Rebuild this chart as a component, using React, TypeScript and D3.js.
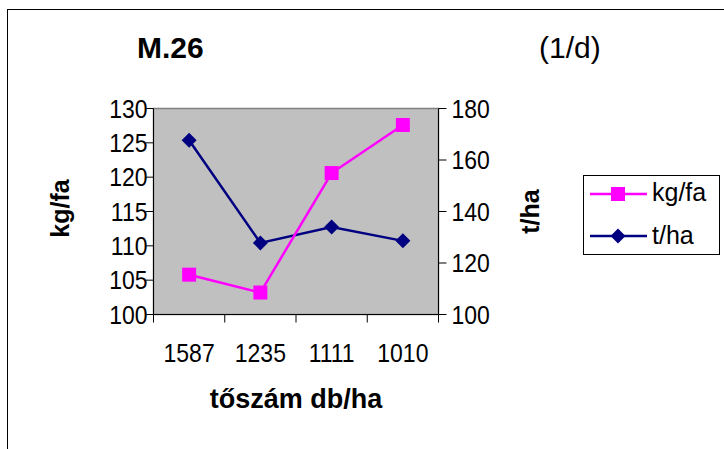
import React from "react";
import * as d3 from "d3";

const categories = ["1587", "1235", "1111", "1010"];
const kgfa = [105.8, 103.2, 120.6, 127.6];
const tha = [167.7, 127.8, 134.0, 128.6];
const leftTicks = [100, 105, 110, 115, 120, 125, 130];
const rightTicks = [100, 120, 140, 160, 180];

const FONT = "'Liberation Sans', Arial, sans-serif";

function T(props: {
  x: number; y: number; size: number; anchor?: string; bold?: boolean; rotate?: number; sy?: number; children: React.ReactNode;
}) {
  const { x, y, size, anchor = "start", bold = false, rotate = 0, sy = 1 } = props;
  return (
    <text
      transform={`translate(${x},${y}) rotate(${rotate}) scale(1,${sy})`}
      textAnchor={anchor}
      fontFamily={FONT}
      fontWeight={bold ? "bold" : "normal"}
      fontSize={size}
      fill="#000"
    >
      {props.children}
    </text>
  );
}

export default function App() {
  const W = 724, H = 449;
  const pl = 153.5, pr = 438.5, pt = 108.5, pb = 314.5;
  const x = d3.scaleBand().domain(categories).range([pl, pr]);
  const yL = d3.scaleLinear().domain([100, 130]).range([pb, pt]);
  const yR = d3.scaleLinear().domain([100, 180]).range([pb, pt]);
  const cx = (c: string) => (x(c) as number) + x.bandwidth() / 2;
  const lineL = d3.line<number>().x((_, i) => cx(categories[i])).y((d) => yL(d));
  const lineR = d3.line<number>().x((_, i) => cx(categories[i])).y((d) => yR(d));
  const boundaries = [...categories.map((c) => x(c) as number), pr];
  const diamond = (px: number, py: number, r: number) =>
    `M${px},${py - r}L${px + r},${py}L${px},${py + r}L${px - r},${py}Z`;
  const tickFont = 23;
  const tsy = 1.1;
  return (
    <svg width={W} height={H} style={{ position: "absolute", left: 0, top: 0, display: "block" }}>
      <rect x={0} y={0} width={W} height={H} fill="#fff" />
      <rect x={7.5} y={9.5} width={W + 10} height={H + 10} fill="none" stroke="#000" strokeWidth={1} />
      <T x={137} y={58} size={30} bold>M.26</T>
      <T x={539} y={58} size={30}>(1/d)</T>

      <rect x={pl} y={pt} width={pr - pl} height={pb - pt} fill="#c0c0c0" stroke="#808080" strokeWidth={1.5} />
      {/* left axis */}
      <line x1={pl} x2={pl} y1={pt} y2={pb} stroke="#000" strokeWidth={1} />
      {leftTicks.map((t) => (
        <g key={"l" + t}>
          <line x1={pl - 8} x2={pl} y1={yL(t)} y2={yL(t)} stroke="#000" />
          <T x={pl - 6} y={yL(t) + 9} anchor="end" size={tickFont} sy={tsy}>{t}</T>
        </g>
      ))}
      {/* right axis */}
      <line x1={pr} x2={pr} y1={pt} y2={pb} stroke="#000" strokeWidth={1} />
      {rightTicks.map((t) => (
        <g key={"r" + t}>
          <line x1={pr} x2={pr + 8} y1={yR(t)} y2={yR(t)} stroke="#000" />
          <T x={pr + 13} y={yR(t) + 9} size={tickFont} sy={tsy}>{t}</T>
        </g>
      ))}
      {/* bottom axis */}
      <line x1={pl} x2={pr} y1={pb} y2={pb} stroke="#000" strokeWidth={1} />
      {boundaries.map((b, i) => (
        <line key={"b" + i} x1={b} x2={b} y1={pb} y2={pb + 8} stroke="#000" />
      ))}
      {categories.map((c) => (
        <T key={"c" + c} x={cx(c)} y={362} anchor="middle" size={tickFont} sy={tsy}>{c}</T>
      ))}

      <path d={lineR(tha) || ""} fill="none" stroke="#000080" strokeWidth={2.5} />
      {tha.map((v, i) => (
        <path key={"d" + i} d={diamond(cx(categories[i]), yR(v), 7.5)} fill="#000080" />
      ))}
      <path d={lineL(kgfa) || ""} fill="none" stroke="#ff00ff" strokeWidth={2.5} />
      {kgfa.map((v, i) => (
        <rect key={"s" + i} x={cx(categories[i]) - 7} y={yL(v) - 7} width={14} height={14} fill="#ff00ff" />
      ))}

      <T x={296} y={408} anchor="middle" size={27} bold>tőszám db/ha</T>
      <T x={69} y={208.5} anchor="middle" size={25} bold rotate={-90}>kg/fa</T>
      <T x={539} y={211.5} anchor="middle" size={25} bold rotate={-90}>t/ha</T>

      {/* legend */}
      <rect x={583.5} y={175.5} width={136} height={79} fill="#fff" stroke="#000" strokeWidth={1} />
      <line x1={590} x2={647} y1={194} y2={194} stroke="#ff00ff" strokeWidth={2.5} />
      <rect x={611} y={187} width={14} height={14} fill="#ff00ff" />
      <T x={652} y={201} size={25}>kg/fa</T>
      <line x1={590} x2={647} y1={236} y2={236} stroke="#000080" strokeWidth={2.5} />
      <path d={diamond(618, 236, 7.5)} fill="#000080" />
      <T x={652} y={244} size={25}>t/ha</T>
    </svg>
  );
}
